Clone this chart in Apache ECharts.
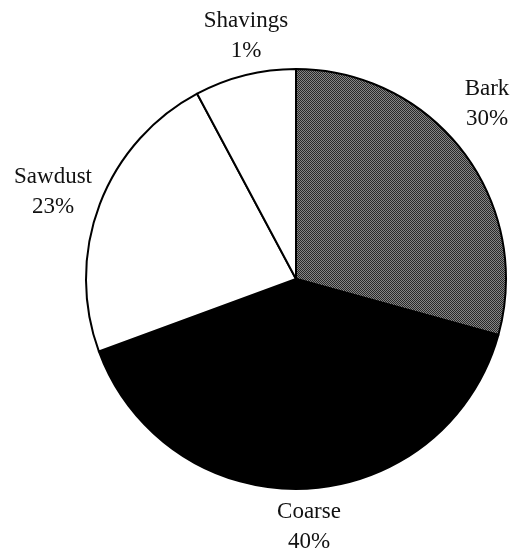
<!DOCTYPE html>
<html>
<head>
<meta charset="utf-8">
<script src="https://cdn.jsdelivr.net/npm/echarts@6/dist/echarts.min.js"></script>
<style>
  html, body { margin: 0; padding: 0; background: #fff; }
  #chart { width: 521px; height: 552px; }
</style>
</head>
<body>
<div id="chart"></div>
<script>
// slice sizes as drawn (angles), and the printed labels
var categories = ['Bark', 'Coarse', 'Sawdust', 'Shavings'];
var sliceValues = [29.3, 40.1, 22.8, 7.8];
var percentLabels = ['30%', '40%', '23%', '1%'];

// label anchor spots (page pixels)
var labelSpots = [[487, 104], [309, 527], [53, 192], [246, 36]];

// dithered grey for the bark slice
var dot = document.createElement('canvas');
dot.width = 2; dot.height = 2;
var g = dot.getContext('2d');
g.fillStyle = '#868686'; g.fillRect(0, 0, 2, 2);
g.fillStyle = '#282828'; g.fillRect(0, 0, 1, 1); g.fillRect(1, 1, 1, 1);

var fills = [{ image: dot, repeat: 'repeat' }, '#000000', '#ffffff', '#ffffff'];

var chart = echarts.init(document.getElementById('chart'), null, { renderer: 'canvas' });

var pieData = categories.map(function (name, i) {
    return {
        name: name,
        value: sliceValues[i],
        itemStyle: { color: fills[i] }
    };
});

var option = {
    backgroundColor: '#fff',
    animation: false,
    series: [{
        type: 'pie',
        center: [296, 279],
        radius: 210,
        startAngle: 90,
        clockwise: true,
        avoidLabelOverlap: false,
        data: pieData,
        itemStyle: {
            borderColor: '#000',
            borderWidth: 2
        },
        label: {
            show: true,
            position: 'outside',
            fontFamily: 'Liberation Serif',
            fontSize: 23,
            lineHeight: 30,
            color: '#111',
            align: 'center',
            overflow: 'none',
            formatter: function (p) {
                return p.name + '\n' + percentLabels[p.dataIndex];
            }
        },
        labelLine: { show: false },
        labelLayout: function (p) {
            var s = labelSpots[p.dataIndex];
            return { x: s[0], y: s[1], align: 'center', verticalAlign: 'middle', hideOverlap: false };
        },
        emphasis: { disabled: true }
    }]
};

chart.setOption(option);

window.addEventListener('resize', function () {
    chart.resize();
});
</script>
</body>
</html>
